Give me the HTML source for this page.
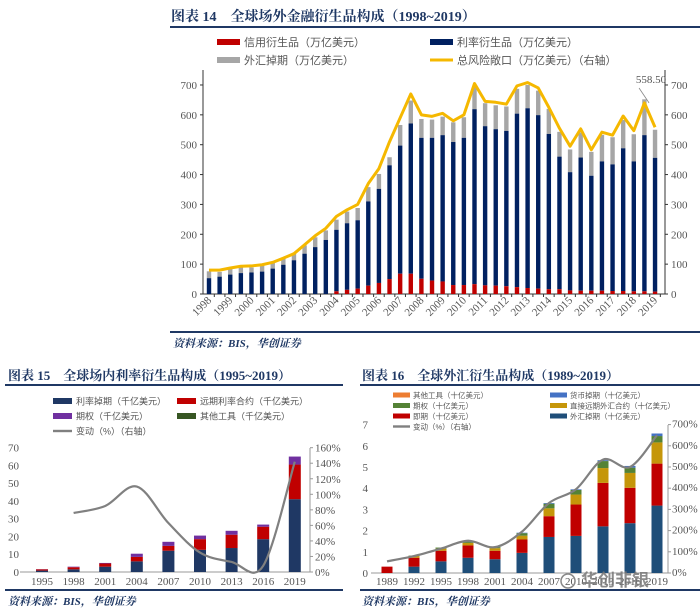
<!DOCTYPE html>
<html><head><meta charset="utf-8">
<style>
html,body{margin:0;padding:0;background:#fff;}
body{width:700px;height:615px;overflow:hidden;position:relative;}
svg{position:absolute;left:0;top:0;}
text{font-family:"Liberation Serif","Noto Serif CJK SC",serif;}
.t{font-weight:bold;fill:#1f3864;}
.s{font-style:italic;fill:#1f3864;font-weight:bold;}
.tk{fill:#555;font-size:11px;}
.lg{fill:#555;font-family:"Liberation Sans","Noto Sans CJK SC",sans-serif;}
</style></head>
<body>
<svg id="c" width="700" height="615" viewBox="0 0 700 615"></svg>
<script>
// ---------- Chart 14 data (half-yearly, 1998-2019) ----------
const c14Years = ["1998","1999","2000","2001","2002","2003","2004","2005","2006","2007","2008","2009","2010","2011","2012","2013","2014","2015","2016","2017","2018","2019"];
const c14Credit = [0,0,0,0,0,0,0,0,0,0,0,0,9,14,18,28,37,50,68,68,51,45,42,30,30,33,29,28,26,23,20,18,16,16,12,11,11,11,10,10,9,9,8];
const c14IrTop = [53,58,65,70,72,75,85,98,113,135,157,181,215,237,247,310,352,431,497,571,523,523,532,509,523,619,562,552,546,604,622,599,536,460,408,457,396,444,434,488,444,532,456];
const c14Total = [76,74,84,93,89,95,106,120,134,163,190,213,249,276,288,358,402,458,566,648,586,584,594,575,592,695,639,632,628,687,700,681,620,543,484,541,476,533,525,583,535,652,550];
const c14Risk = [80,80,87,93,94,98,106,120,135,165,195,220,260,282,300,370,420,510,590,670,600,595,605,580,600,705,645,642,636,697,708,690,625,555,495,553,483,542,532,596,547,640,558.5];
const c14Ticks = [0,100,200,300,400,500,600,700];
// ---------- Chart 15 data ----------
const c15Cats = ["1995","1998","2001","2004","2007","2010","2013","2016","2019"];
const c15Swap = [0.8,1.5,3,6,12,12.5,13.5,18.5,41];
const c15Fra = [0.7,1.2,1.8,2.5,2.7,6,7.5,7,19.5];
const c15Opt = [0.1,0.3,0.3,1.8,2.3,2,2.2,1.2,4.5];
const c15Other = [0,0,0,0,0,0,0,0,0];
const c15Chg = [null,76,85,110,63,25,13,8,142];
const c15LTicks = [0,10,20,30,40,50,60,70];
const c15RTicks = ["0%","20%","40%","60%","80%","100%","120%","140%","160%"];
// ---------- Chart 16 data ----------
const c16Cats = ["1989","1992","1995","1998","2001","2004","2007","2010","2013","2016","2019"];
const c16FxSwap = [0,0.3,0.55,0.72,0.65,0.95,1.7,1.75,2.2,2.35,3.18];
const c16Fwd = [0.3,0.42,0.5,0.58,0.4,0.63,0.98,1.48,2.05,1.67,1.98];
const c16Outright = [0,0.08,0.1,0.12,0.12,0.18,0.37,0.47,0.7,0.7,1.0];
const c16Opt = [0,0.02,0.05,0.08,0.05,0.12,0.22,0.22,0.33,0.25,0.3];
const c16CcySwap = [0,0,0,0,0,0.02,0.03,0.03,0.04,0.08,0.12];
const c16Other = [0,0,0,0,0,0,0,0,0,0,0];
const c16Chg = [55,80,115,152,122,195,330,395,535,500,650];
const c16LTicks = [0,1,2,3,4,5,6,7];
const c16RTicks = ["0%","100%","200%","300%","400%","500%","600%","700%"];

const NS="http://www.w3.org/2000/svg";
const svg=document.getElementById('c');
function mk(tag,attrs,parent){const e=document.createElementNS(NS,tag);for(const k in attrs)e.setAttribute(k,attrs[k]);(parent||svg).appendChild(e);return e;}
function tx(x,y,s,cls,size,anchor,parent){const e=mk('text',{x:x,y:y,'font-size':size,'text-anchor':anchor||'start'},parent);if(cls)e.setAttribute('class',cls);e.textContent=s;return e;}
function smooth(pts){if(pts.length<2)return '';let d='M'+pts[0][0]+','+pts[0][1];for(let i=0;i<pts.length-1;i++){const p0=pts[i-1]||pts[i],p1=pts[i],p2=pts[i+1],p3=pts[i+2]||p2;const c1x=p1[0]+(p2[0]-p0[0])/6,c1y=p1[1]+(p2[1]-p0[1])/6,c2x=p2[0]-(p3[0]-p1[0])/6,c2y=p2[1]-(p3[1]-p1[1])/6;d+=' C'+c1x+','+c1y+' '+c2x+','+c2y+' '+p2[0]+','+p2[1];}return d;}

// ================= Chart 14 =================
let e;
e=tx(171,21,'图表 14　全球场外金融衍生品构成（1998~2019）','t',14);


e=mk('rect',{x:170,y:26,width:530,height:2,fill:'#1f3864'});


const lg14=[[217,42,'#c00000','信用衍生品（万亿美元）'],[430,42,'#002060','利率衍生品（万亿美元）'],[217,60,'#a6a6a6','外汇掉期（万亿美元）'],[430,60,'#f5b800','总风险敞口（万亿美元）（右轴）']];
lg14.forEach((l,i)=>{const g=mk('g',{});


mk('rect',{x:l[0],y:l[1]-(i==3?1.5:3),width:23,height:i==3?3:6,fill:l[2]},g);tx(l[0]+27,l[1]+4,l[3],'lg',11,'start',g);});
const y14=v=>294-v*0.2986;
const x14=i=>209+i*10.62;
e=mk('line',{x1:203,y1:70,x2:203,y2:294,stroke:'#333'});


e=mk('line',{x1:665,y1:70,x2:665,y2:294,stroke:'#333'});


e=mk('line',{x1:203,y1:294,x2:665,y2:294,stroke:'#333'});


c14Ticks.forEach(t=>{const y=y14(t);mk('line',{x1:200,y1:y,x2:203,y2:y,stroke:'#333'});mk('line',{x1:665,y1:y,x2:668,y2:y,stroke:'#333'});
e=tx(197,y+4,String(t),'tk',11,'end');


e=tx(671,y+4,String(t),'tk',11,'start');

});
c14Total.forEach((tot,i)=>{const x=x14(i)-2.2,w=4.4;
e=mk('rect',{x:x,y:y14(tot),width:w,height:y14(c14IrTop[i])-y14(tot),fill:'#a6a6a6'});


e=mk('rect',{x:x,y:y14(c14IrTop[i]),width:w,height:y14(c14Credit[i])-y14(c14IrTop[i]),fill:'#002060'});


e=mk('rect',{x:x,y:y14(c14Credit[i]),width:w,height:294-y14(c14Credit[i]),fill:'#c00000'});


mk('line',{x1:x14(i)+5.3,y1:294,x2:x14(i)+5.3,y2:297,stroke:'#333'});});
e=mk('polyline',{points:c14Risk.map((v,i)=>x14(i)+','+y14(v)).join(' '),fill:'none',stroke:'#f5b800','stroke-width':3,'stroke-linejoin':'round'});


const li=c14Risk.length-1;
e=tx(x14(li)-4,y14(700)-2,c14Risk[li].toFixed(2),'tk',11,'middle');


mk('line',{x1:x14(li)-16,y1:y14(690),x2:x14(li)-6,y2:y14(640),stroke:'#888','stroke-width':0.8});
c14Years.forEach((y,i)=>{const x=x14(i*2)+3,yy=301;
e=tx(x,yy,y,'tk',11,'end');
e.setAttribute('transform','rotate(-45 '+x+' '+yy+')');

});
e=mk('rect',{x:170,y:331,width:530,height:2,fill:'#1f3864'});


e=tx(173,347,'资料来源：BIS，华创证券','s',11);



// ================= Chart 15 =================
e=tx(8,380,'图表 15　全球场内利率衍生品构成（1995~2019）','t',13);


e=mk('rect',{x:5,y:384,width:338,height:2,fill:'#1f3864'});


const lg15=[[53,401,'#1f3864','利率掉期（千亿美元）'],[177,401,'#c00000','远期利率合约（千亿美元）'],[53,416,'#7030a0','期权（千亿美元）'],[177,416,'#375623','其他工具（千亿美元）'],[53,431,'#808080','变动（%）（右轴）',1]];
lg15.forEach(l=>{const g=mk('g',{});


mk('rect',{x:l[0],y:l[1]-(l[4]?1.2:3),width:19,height:l[4]?2.4:6,fill:l[2]},g);tx(l[0]+23,l[1]+3.5,l[3],'lg',9,'start',g);});
const y15=v=>572-v*1.776;
const y15r=p=>572-p*0.777;
const x15=i=>42+i*31.6;
e=mk('line',{x1:20,y1:572,x2:310,y2:572,stroke:'#999'});


e=mk('line',{x1:310,y1:448,x2:310,y2:572,stroke:'#999'});


c15LTicks.forEach(t=>{e=tx(19,y15(t)+4,String(t),'tk',10,'end');

});
c15RTicks.forEach((t,i)=>{const y=y15r(i*20);mk('line',{x1:310,y1:y,x2:313,y2:y,stroke:'#999'});
e=tx(315,y+4,t,'tk',10,'start');

});
c15Cats.forEach((c,i)=>{let base=0;const x=x15(i)-6;
[[c15Swap,'#1f3864','bar-ir-swap'],[c15Fra,'#c00000','bar-fra'],[c15Opt,'#7030a0','bar-options'],[c15Other,'#375623','bar-other']].forEach(s=>{const v=s[0][i];
e=mk('rect',{x:x,y:y15(base+v),width:12,height:y15(base)-y15(base+v),fill:s[1]});


base+=v;});
e=tx(x15(i),585,c,'tk',9,'middle');

});
const p15=[];c15Chg.forEach((v,i)=>{if(v!==null)p15.push([x15(i),y15r(v)]);});
e=mk('path',{d:smooth(p15),fill:'none',stroke:'#808080','stroke-width':2.2});


e=mk('rect',{x:5,y:589,width:338,height:2,fill:'#1f3864'});


e=tx(8,605,'资料来源：BIS，华创证券','s',11);



// ================= Chart 16 =================
e=tx(362,380,'图表 16　全球外汇衍生品构成（1989~2019）','t',13);


e=mk('rect',{x:360,y:384,width:340,height:2,fill:'#1f3864'});


const lg16=[[393,395,'#ed7d31','其他工具（十亿美元）'],[550,395,'#4472c4','货币掉期（十亿美元）'],[393,405.5,'#548235','期权（十亿美元）'],[550,405.5,'#c5960a','直接远期外汇合约（十亿美元）'],[393,416,'#c00000','即期（十亿美元）'],[550,416,'#1f4e79','外汇掉期（十亿美元）'],[393,426.5,'#808080','变动（%）（右轴）',1]];
lg16.forEach(l=>{const g=mk('g',{});


mk('rect',{x:l[0],y:l[1]-(l[4]?1.2:2.5),width:17,height:l[4]?2.4:5,fill:l[2]},g);tx(l[0]+20,l[1]+3,l[3],'lg',7.5,'start',g);});
const y16=v=>573-v*21.2;
const y16r=p=>573-p*0.212;
const x16=i=>387+i*27;
e=mk('line',{x1:371,y1:573,x2:668,y2:573,stroke:'#999'});


e=mk('line',{x1:668,y1:425,x2:668,y2:573,stroke:'#999'});


c16LTicks.forEach(t=>{e=tx(368,y16(t)+4,String(t),'tk',10,'end');

});
c16RTicks.forEach((t,i)=>{const y=y16r(i*100);mk('line',{x1:668,y1:y,x2:671,y2:y,stroke:'#999'});
e=tx(672,y+3,t,'tk',8,'start');

});
c16Cats.forEach((c,i)=>{let base=0;const x=x16(i)-5.5;
[[c16FxSwap,'#1f4e79','bar-fx-swap'],[c16Fwd,'#c00000','bar-spot'],[c16Outright,'#c5960a','bar-outright-forward'],[c16Opt,'#548235','bar-fx-options'],[c16CcySwap,'#4472c4','bar-currency-swap'],[c16Other,'#ed7d31','bar-fx-other']].forEach(s=>{const v=s[0][i];
e=mk('rect',{x:x,y:y16(base+v),width:11,height:y16(base)-y16(base+v),fill:s[1]});


base+=v;});
e=tx(x16(i),585,c,'tk',8,'middle');

});
e=mk('path',{d:smooth(c16Chg.map((v,i)=>[x16(i),y16r(v)])),fill:'none',stroke:'#808080','stroke-width':2.2});


e=mk('rect',{x:360,y:589,width:340,height:2,fill:'#1f3864'});


e=tx(362,605,'资料来源：BIS，华创证券','s',11);


e=tx(615,586,'华创非银','',17,'middle');
e.setAttribute('fill','#777');
e.setAttribute('style','font-family:"Noto Sans CJK SC",sans-serif;font-weight:bold;opacity:0.85');


e=mk('circle',{cx:568,cy:581,r:7,fill:'none',stroke:'#888','stroke-width':1.5});


</script>
</body></html>
